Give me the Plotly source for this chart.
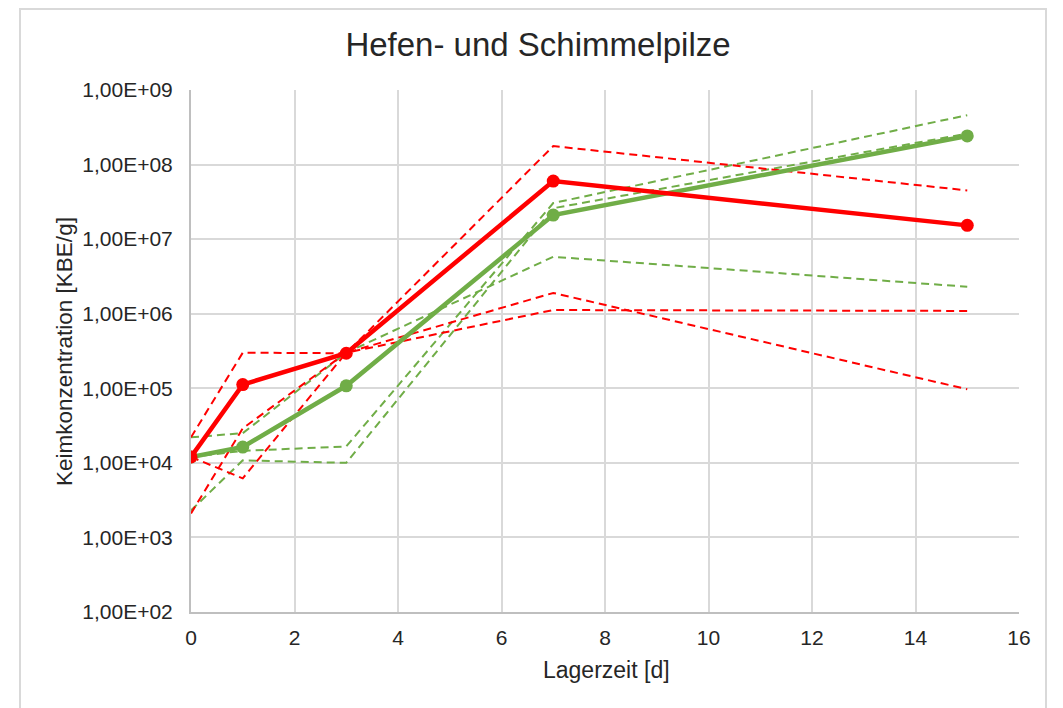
import plotly.graph_objects as go

# ---- data ----
days = [0, 1, 3, 7, 15]

red_mean = [1.2e4, 1.12e5, 2.95e5, 6.0e7, 1.53e7]
green_mean = [1.2e4, 1.63e4, 1.08e5, 2.1e7, 2.42e8]

red_rep1 = [2.2e4, 3.0e5, 2.95e5, 1.77e8, 4.5e7]
red_rep2 = [1.2e4, 6.2e3, 3.0e5, 1.9e6, 9.7e4]
red_rep3 = [2.1e3, 2.9e4, 3.0e5, 1.12e6, 1.09e6]

green_rep1 = [2.2e4, 2.5e4, 3.0e5, 5.8e6, 2.3e6]
green_rep2 = [1.2e4, 1.45e4, 1.66e4, 3.05e7, 4.6e8]
green_rep3 = [2.3e3, 1.08e4, 1.0e4, 2.6e7, 2.6e8]

y_tick_vals = [1e2, 1e3, 1e4, 1e5, 1e6, 1e7, 1e8, 1e9]
y_tick_text = ["1,00E+02", "1,00E+03", "1,00E+04", "1,00E+05",
               "1,00E+06", "1,00E+07", "1,00E+08", "1,00E+09"]
x_tick_vals = [0, 2, 4, 6, 8, 10, 12, 14, 16]

title_text = "Hefen- und Schimmelpilze"
x_title = "Lagerzeit [d]"
y_title = "Keimkonzentration [KBE/g]"

RED = "#FF0000"
GREEN = "#70AD47"
FONT = "Liberation Sans, Arial, sans-serif"
TXT = "#262626"

# page body has an 8px margin; targets below are in window pixels
OFF = 8
PL, PR, PT, PB = 191, 1019, 90, 612   # plot area in window pixels
PW, PH = PR - PL, PB - PT

fig = go.Figure()

for rep in (green_rep1, green_rep2, green_rep3):
    fig.add_trace(go.Scatter(x=days, y=rep, mode="lines",
                             line=dict(color=GREEN, width=2, dash="8px,5px"),
                             hoverinfo="skip"))
for rep in (red_rep1, red_rep2, red_rep3):
    fig.add_trace(go.Scatter(x=days, y=rep, mode="lines",
                             line=dict(color=RED, width=2, dash="8px,5px"),
                             hoverinfo="skip"))

fig.add_trace(go.Scatter(x=days, y=green_mean, mode="lines+markers",
                         line=dict(color=GREEN, width=4.5),
                         marker=dict(color=GREEN, size=13)))
fig.add_trace(go.Scatter(x=days, y=red_mean, mode="lines+markers",
                         line=dict(color=RED, width=4.5),
                         marker=dict(color=RED, size=13)))

fig.update_layout(
    width=1063, height=708,
    margin=dict(l=PL - OFF, r=1063 - PR + OFF, t=PT - OFF, b=708 - PB + OFF),
    paper_bgcolor="white", plot_bgcolor="white",
    showlegend=False,
    font=dict(family=FONT, color=TXT, size=21),
    title=dict(text=title_text, x=(538 - OFF) / 1063, xanchor="center",
               xref="container", y=1 - (44 - OFF) / 708, yanchor="middle",
               yref="container",
               font=dict(family=FONT, size=33, color=TXT)),
    xaxis=dict(range=[0, 16], tickvals=x_tick_vals,
               showgrid=True, gridcolor="#D9D9D9", gridwidth=2,
               showline=True, linecolor="#BFBFBF", linewidth=2,
               zeroline=False, mirror=False,
               ticks="outside", ticklen=6, tickcolor="rgba(0,0,0,0)",
               tickfont=dict(size=21, family=FONT, color=TXT)),
    yaxis=dict(type="log", range=[2, 9], tickvals=y_tick_vals,
               ticktext=y_tick_text,
               showgrid=True, gridcolor="#D9D9D9", gridwidth=2,
               showline=True, linecolor="#BFBFBF", linewidth=2,
               zeroline=False,
               ticks="outside", ticklen=12, tickcolor="rgba(0,0,0,0)",
               tickfont=dict(size=21, family=FONT, color=TXT)),
)

# axis titles
fig.add_annotation(text=x_title, xref="paper", yref="paper",
                   x=(606 - PL) / PW, y=(PB - 670) / PH,
                   xanchor="center", yanchor="middle", showarrow=False,
                   font=dict(size=23, family=FONT, color=TXT))
fig.add_annotation(text=y_title, xref="paper", yref="paper",
                   x=(64 - PL) / PW, y=(PB - 352) / PH, textangle=-90,
                   xanchor="center", yanchor="middle", showarrow=False,
                   font=dict(size=22.5, family=FONT, color=TXT))

# outer chart border
fig.add_shape(type="rect", xref="paper", yref="paper",
              x0=(20 - PL) / PW, x1=(1046 - PL) / PW,
              y0=(PB - 730) / PH, y1=(PB - 9) / PH,
              line=dict(color="#D9D9D9", width=2), layer="below")

fig.write_html("out.html")
